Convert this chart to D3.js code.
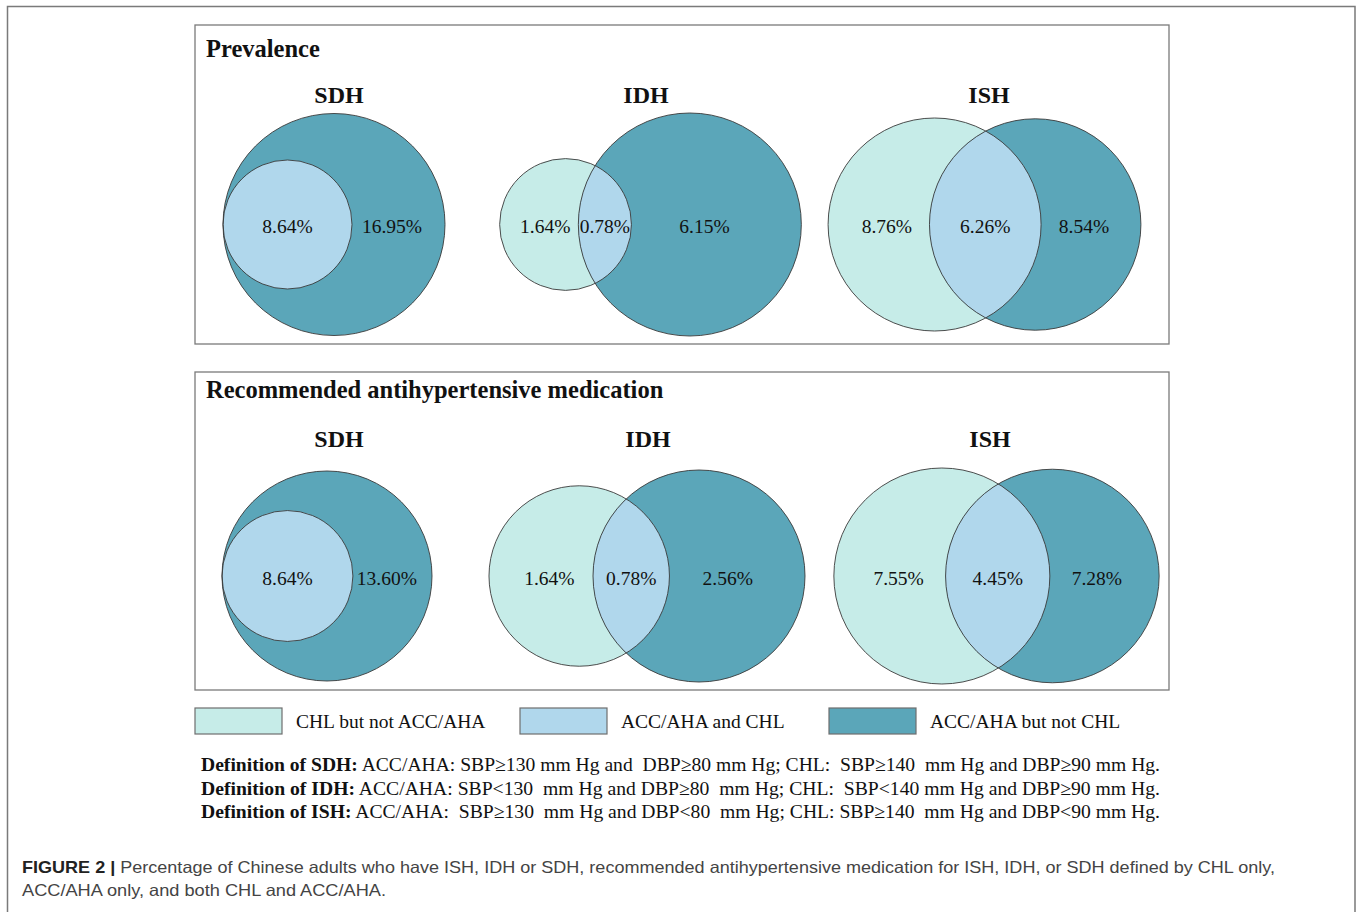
<!DOCTYPE html>
<html lang="en">
<head>
<meta charset="utf-8">
<title>Figure 2: SDH, IDH and ISH by CHL and ACC/AHA</title>
<script src="https://cdn.jsdelivr.net/npm/d3@7"></script>
<style>
  body { margin: 0; background: #fff; }
  svg text { white-space: pre; }
  .serif { font-family: "Liberation Serif", "Times New Roman", serif; fill: #111; }
  .sans { font-family: "Liberation Sans", Arial, sans-serif; }
</style>
</head>
<body>
<script>
// ---- data ----
var panelTitles = ["Prevalence", "Recommended antihypertensive medication"];
var types = ["SDH", "IDH", "ISH"];
// percent of adults, per panel, per type (SDH, IDH, ISH)
var chlOnly = [[0, 1.64, 8.76], [0, 1.64, 7.55]];
var bothSets = [[8.64, 0.78, 6.26], [8.64, 0.78, 4.45]];
var accOnly = [[16.95, 6.15, 8.54], [13.60, 2.56, 7.28]];

var legendLabels = ["CHL but not ACC/AHA", "ACC/AHA and CHL", "ACC/AHA but not CHL"];
var defTerms = ["Definition of SDH:", "Definition of IDH:", "Definition of ISH:"];
var defTexts = [
  " ACC/AHA: SBP\u2265130 mm Hg and  DBP\u226580 mm Hg; CHL:  SBP\u2265140  mm Hg and DBP\u226590 mm Hg.",
  " ACC/AHA: SBP<130  mm Hg and DBP\u226580  mm Hg; CHL:  SBP<140 mm Hg and DBP\u226590 mm Hg.",
  " ACC/AHA:  SBP\u2265130  mm Hg and DBP<80  mm Hg; CHL: SBP\u2265140  mm Hg and DBP<90 mm Hg."
];
var captionLines = [
  " Percentage of Chinese adults who have ISH, IDH or SDH, recommended antihypertensive medication for ISH, IDH, or SDH defined by CHL only,",
  "ACC/AHA only, and both CHL and ACC/AHA."
];

// ---- layout ----
var W = 1357, H = 912;
var colours = ["#c6ece8", "#b0d7ec", "#5ba6b9"];
var panelBox = [{y0: 25, y1: 344}, {y0: 372, y1: 690}];
var boxX0 = 195, boxX1 = 1169;
var diagMid = [[334, 650.5, 984.5], [327, 647, 996.5]];
var diagCy = [224.5, 576];
var diagRmax = [[111, 111.5, 106.5], [105, 106, 108]];
var titleX = [[339, 646, 989], [339, 648, 990]];

var svg = d3.select("body").append("svg")
  .attr("width", W)
  .attr("height", H);

// outer figure frame (open at the bottom)
svg.append("path")
  .attr("d", "M7.5," + H + "V6.5H1355V" + H)
  .attr("fill", "none")
  .attr("stroke", "#7a7a7a")
  .attr("stroke-width", 1.5);

var defs = svg.append("defs");

// lens area of two circles at distance d
function lensArea(r1, r2, d) {
  if (d >= r1 + r2) return 0;
  if (d <= Math.abs(r1 - r2)) return Math.PI * Math.pow(Math.min(r1, r2), 2);
  var a1 = Math.acos((d * d + r1 * r1 - r2 * r2) / (2 * d * r1));
  var a2 = Math.acos((d * d + r2 * r2 - r1 * r1) / (2 * d * r2));
  var k = Math.sqrt((-d + r1 + r2) * (d + r1 - r2) * (d - r1 + r2) * (d + r1 + r2));
  return r1 * r1 * a1 + r2 * r2 * a2 - 0.5 * k;
}

function solveDistance(r1, r2, target) {
  var lo = Math.abs(r1 - r2), hi = r1 + r2;
  for (var i = 0; i < 60; i++) {
    var mid = (lo + hi) / 2;
    if (lensArea(r1, r2, mid) > target) lo = mid; else hi = mid;
  }
  return (lo + hi) / 2;
}

panelTitles.forEach(function(title, p) {
  var box = panelBox[p];
  svg.append("rect")
    .attr("x", boxX0).attr("y", box.y0)
    .attr("width", boxX1 - boxX0).attr("height", box.y1 - box.y0)
    .attr("fill", "none")
    .attr("stroke", "#7a7a7a")
    .attr("stroke-width", 1.3);

  svg.append("text")
    .attr("class", "serif")
    .attr("x", boxX0 + 11)
    .attr("y", box.y0 + (p == 0 ? 32 : 26))
    .attr("font-size", 24.5)
    .attr("font-weight", "bold")
    .text(title);

  types.forEach(function(t, i) {
    var a = chlOnly[p][i], b = bothSets[p][i], c = accOnly[p][i];
    var chlTot = a + b, accTot = b + c;
    var rs = d3.scaleSqrt().domain([0, Math.max(chlTot, accTot)]).range([0, diagRmax[p][i]]);
    var r1 = rs(chlTot), r2 = rs(accTot);
    var d;
    if (a == 0) {
      d = r2 - r1; // CHL set inside ACC/AHA set, touching the left edge
    } else {
      var k = Math.PI * r2 * r2 / accTot;
      d = solveDistance(r1, r2, b * k);
    }
    var left = Math.min(-r1, d - r2), right = Math.max(r1, d + r2);
    var x1 = diagMid[p][i] - (left + right) / 2;
    var x2 = x1 + d;
    var cy = diagCy[p];

    svg.append("text")
      .attr("class", "serif")
      .attr("x", titleX[p][i])
      .attr("y", box.y0 + (p == 0 ? 78 : 75))
      .attr("text-anchor", "middle")
      .attr("font-size", 24)
      .attr("font-weight", "bold")
      .text(t);

    var clipId = "clip-" + p + "-" + i;
    defs.append("clipPath").attr("id", clipId)
      .append("circle").attr("cx", x1).attr("cy", cy).attr("r", r1);

    var g = svg.append("g");
    g.append("circle").attr("cx", x1).attr("cy", cy).attr("r", r1).attr("fill", colours[0]);
    g.append("circle").attr("cx", x2).attr("cy", cy).attr("r", r2).attr("fill", colours[2]);
    g.append("circle").attr("cx", x2).attr("cy", cy).attr("r", r2)
      .attr("fill", colours[1])
      .attr("clip-path", "url(#" + clipId + ")");
    g.append("circle").attr("cx", x1).attr("cy", cy).attr("r", r1)
      .attr("fill", "none").attr("stroke", "#3a3a3a").attr("stroke-width", 0.9);
    g.append("circle").attr("cx", x2).attr("cy", cy).attr("r", r2)
      .attr("fill", "none").attr("stroke", "#3a3a3a").attr("stroke-width", 0.9);

    var chlL = x1 - r1, chlR = x1 + r1, accL = x2 - r2, accR = x2 + r2;
    var labels = [];
    if (a > 0) labels.push({v: a, x: accL - 0.42 * (accL - chlL)});
    labels.push({v: b, x: (Math.max(chlL, accL) + chlR) / 2});
    labels.push({v: c, x: chlR + 0.43 * (accR - chlR)});

    g.selectAll("text.pct")
      .data(labels)
      .enter()
      .append("text")
      .attr("class", "serif pct")
      .attr("x", function(l) { return l.x; })
      .attr("y", cy + 2)
      .attr("dy", "0.35em")
      .attr("text-anchor", "middle")
      .attr("font-size", 19.5)
      .text(function(l) { return l.v.toFixed(2) + "%"; });
  });
});

// legend
var legendX = [195, 520, 829];
var lg = svg.append("g").selectAll("g")
  .data(legendLabels)
  .enter()
  .append("g")
  .attr("transform", function(d, i) { return "translate(" + legendX[i] + ",708)"; });
lg.append("rect")
  .attr("width", 87).attr("height", 26)
  .attr("fill", function(d, i) { return colours[i]; })
  .attr("stroke", "#6e6e6e")
  .attr("stroke-width", 1.2);
lg.append("text")
  .attr("class", "serif")
  .attr("x", 101).attr("y", 13)
  .attr("dy", "0.35em")
  .attr("font-size", 19.5)
  .text(function(d) { return d; });

// definitions
var defY = [771, 795, 818];
defTerms.forEach(function(term, i) {
  var t = svg.append("text")
    .attr("class", "serif")
    .attr("x", 201).attr("y", defY[i])
    .attr("font-size", 19)
    .attr("textLength", 959)
    .attr("lengthAdjust", "spacingAndGlyphs");
  t.append("tspan").attr("font-weight", "bold").text(term);
  t.append("tspan").text(defTexts[i]);
});

// caption
var cap1 = svg.append("text")
  .attr("class", "sans")
  .attr("x", 22).attr("y", 873)
  .attr("font-size", 16.5)
  .attr("fill", "#444")
  .attr("textLength", 1253)
  .attr("lengthAdjust", "spacingAndGlyphs");
cap1.append("tspan").attr("font-weight", "bold").attr("fill", "#222").text("FIGURE 2 |");
cap1.append("tspan").text(captionLines[0]);

svg.append("text")
  .attr("class", "sans")
  .attr("x", 22).attr("y", 896)
  .attr("font-size", 16.5)
  .attr("fill", "#444")
  .attr("textLength", 364)
  .attr("lengthAdjust", "spacingAndGlyphs")
  .text(captionLines[1]);
</script>
</body>
</html>
